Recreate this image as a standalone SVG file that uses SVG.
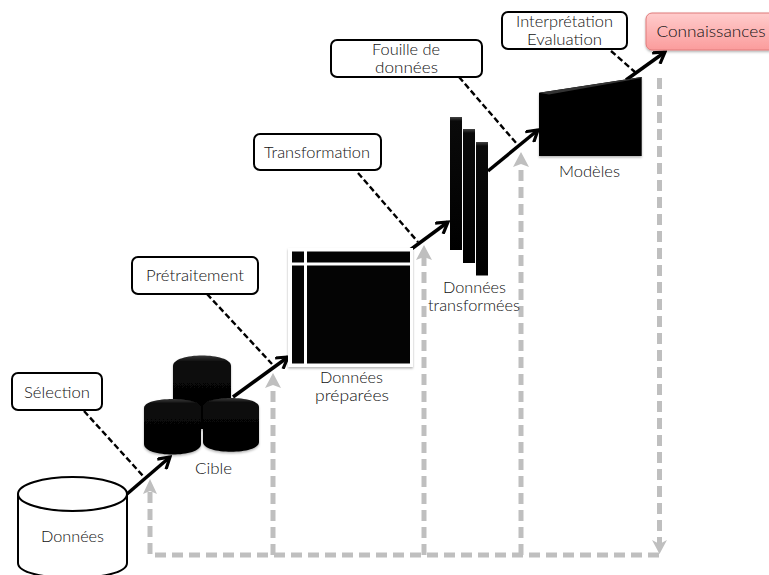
<svg xmlns="http://www.w3.org/2000/svg" width="769" height="575" viewBox="0 0 769 575">
<style>
text{font-family:"Lato","Open Sans","Liberation Sans",sans-serif;font-size:15px;font-weight:300;fill:#111;text-anchor:middle}
.box{fill:#fff;stroke:#000;stroke-width:2}
.blk{fill:#040404}
.top{fill:#333}
.cyl{fill:#fff;stroke:#000;stroke-width:2}
.bl{fill:none;stroke:#000;stroke-width:3.5}
.ds{fill:none;stroke:#000;stroke-width:2.4;stroke-dasharray:6 3}
.gr{fill:none;stroke:#bfbfbf;stroke-width:5;stroke-dasharray:11 6}
</style>
<defs>
<linearGradient id="pink" x1="0" y1="0" x2="0" y2="1"><stop offset="0" stop-color="#ffcccc"/><stop offset="1" stop-color="#fb9c9c"/></linearGradient>
<linearGradient id="cylg" x1="0" y1="0" x2="0" y2="1"><stop offset="0" stop-color="#383838"/><stop offset="0.09" stop-color="#0a0a0a"/><stop offset="1" stop-color="#000"/></linearGradient>
<linearGradient id="barg" x1="0" y1="0" x2="0" y2="1"><stop offset="0" stop-color="#444"/><stop offset="0.03" stop-color="#0a0a0a"/><stop offset="1" stop-color="#000"/></linearGradient>
<filter id="sh" x="-10%" y="-10%" width="120%" height="125%"><feDropShadow dx="0" dy="1.500" stdDeviation="1.200" flood-color="#000" flood-opacity=".3"/></filter>
<filter id="soft" x="-5%" y="-5%" width="110%" height="110%"><feGaussianBlur stdDeviation="0.500"/></filter>
<marker id="ah" viewBox="0 0 12 12" refX="10" refY="6" markerWidth="4.200" markerHeight="4.200" orient="auto"><path d="M1 0.500L10 6L1 11.500" fill="none" stroke="#000" stroke-width="2.600"/></marker>
</defs>

<g id="connectors">
<g filter="url(#soft)">
<path class="gr" d="M659.500 78V548M659 555H150V490"/>
<path class="gr" d="M273 555V384M424 555V256M521 555V163"/>
<path d="M150 479L157 494L150 491L143 494Z" fill="#bfbfbf"/>
<path d="M273 373L281 388L273 385L265 388Z" fill="#bfbfbf"/>
<path d="M424 245L432 260L424 257L416 260Z" fill="#bfbfbf"/>
<path d="M521 152L529 167L521 164L513 167Z" fill="#bfbfbf"/>
<path d="M659.500 554L652 540L659.500 544L667 540Z" fill="#bfbfbf"/>
</g>
<path class="ds" d="M84 411L144 477"/>
<path class="ds" d="M207 294L272 364"/>
<path class="ds" d="M358 173L418 242"/>
<path class="ds" d="M459 77L517 144"/>
<path class="ds" d="M611 51L635 72"/>
<path class="bl" marker-end="url(#ah)" d="M127 494L170 457"/>
<path class="bl" marker-end="url(#ah)" d="M233 397L288 357"/>
<path class="bl" marker-end="url(#ah)" d="M410 250L448 222"/>
<path class="bl" marker-end="url(#ah)" d="M488 171L538 130"/>
<path class="bl" marker-end="url(#ah)" d="M626 80L665 52"/>
</g>

<g id="donnees">
<path class="cyl" d="M18 494V563C18 583 127 583 127 563V494"/>
<ellipse class="cyl" cx="72.500" cy="494" rx="54.500" ry="17"/>
<text x="72.500" y="542" textLength="63" lengthAdjust="spacingAndGlyphs">Données</text>
</g>

<g id="cible" filter="url(#sh)">
<path fill="url(#cylg)" d="M173 366C173 352 231 352 231 366V420C231 432 173 432 173 420Z"/>
<path fill="url(#cylg)" d="M144 408C144 396 201 396 201 408V444C201 458 144 458 144 444Z"/>
<path fill="url(#cylg)" d="M203 407C203 395 259 395 259 407V442C259 455 203 455 203 442Z"/>
</g>
<text id="cible-label" x="213.500" y="474" textLength="37" lengthAdjust="spacingAndGlyphs">Cible</text>

<g id="preparees">
<rect x="288" y="248" width="125" height="119" fill="#fff" filter="url(#sh)"/>
<rect class="blk" x="292" y="251.500" width="12" height="11"/>
<rect class="blk" x="307" y="251.500" width="103" height="11"/>
<rect class="blk" x="292" y="265.500" width="12" height="98"/>
<rect class="blk" x="307" y="265.500" width="103" height="98"/>
<text x="351.500" y="383" textLength="63" lengthAdjust="spacingAndGlyphs">Données</text>
<text x="352" y="401" textLength="74" lengthAdjust="spacingAndGlyphs">préparées</text>
</g>

<g id="transformees">
<rect x="450" y="117" width="12" height="133" fill="url(#barg)"/>
<rect x="463" y="129" width="12" height="134" fill="url(#barg)"/>
<rect x="476" y="142" width="12" height="133.500" fill="url(#barg)"/>
<text x="474.500" y="293" textLength="63" lengthAdjust="spacingAndGlyphs">Données</text>
<text x="474" y="311" textLength="92" lengthAdjust="spacingAndGlyphs">transformées</text>
</g>

<g id="modeles">
<path d="M539 92.700L641.700 77V156H539Z" class="blk" filter="url(#sh)"/>
<path d="M539 92.700L641.700 77V78L549 94.500Z" class="top"/>
<text x="589.500" y="177" textLength="61" lengthAdjust="spacingAndGlyphs">Modèles</text>
</g>

<g id="connaissances">
<path d="M770 13H652a6 6 0 0 0-6 6V44a6 6 0 0 0 6 6H770Z" fill="url(#pink)" stroke="#e07a7a" filter="url(#sh)"/>
<text x="711" y="37" textLength="109" lengthAdjust="spacingAndGlyphs">Connaissances</text>
</g>

<g id="selection"><rect class="box" x="12" y="373" width="90" height="37" rx="6"/><text x="57" y="398" textLength="66" lengthAdjust="spacingAndGlyphs">Sélection</text></g>
<g id="pretraitement"><rect class="box" x="132" y="257" width="126" height="37" rx="6"/><text x="195" y="281" textLength="98" lengthAdjust="spacingAndGlyphs">Prétraitement</text></g>
<g id="transformation"><rect class="box" x="254" y="134" width="127" height="36" rx="6"/><text x="317" y="158" textLength="106" lengthAdjust="spacingAndGlyphs">Transformation</text></g>
<g id="fouille"><rect class="box" x="331" y="40" width="151" height="37" rx="6"/><text x="406" y="55" textLength="68" lengthAdjust="spacingAndGlyphs">Fouille de</text><text x="406.500" y="73" textLength="63" lengthAdjust="spacingAndGlyphs">données</text></g>
<g id="interpretation"><rect class="box" x="502" y="12" width="125" height="37" rx="6"/><text x="564.500" y="27" textLength="97" lengthAdjust="spacingAndGlyphs">Interprétation</text><text x="564.500" y="45" textLength="75" lengthAdjust="spacingAndGlyphs">Evaluation</text></g>
</svg>
